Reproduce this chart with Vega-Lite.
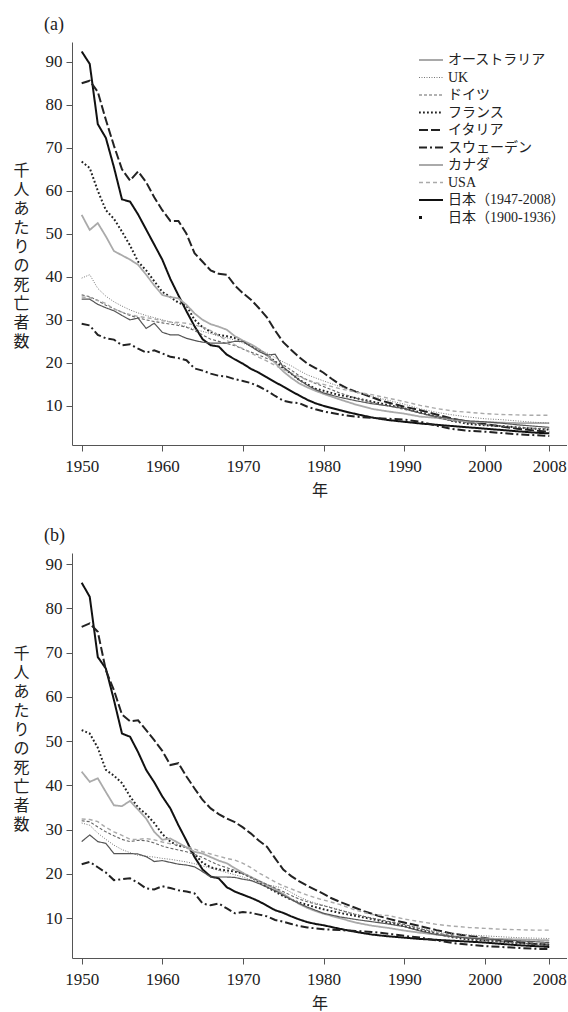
{
"$schema":"https://vega.github.io/schema/vega-lite/v6.json",
"background":"white",
"padding":{"left":12,"top":16,"right":0,"bottom":0},
"datasets":{
"a":[
{"c":"JP","x":1950,"v":92.4},{"c":"JP","x":1951,"v":89.5},{"c":"JP","x":1952,"v":75.5},{"c":"JP","x":1953,"v":72.3},{"c":"JP","x":1954,"v":65.5},{"c":"JP","x":1955,"v":58},{"c":"JP","x":1956,"v":57.5},{"c":"JP","x":1957,"v":54.5},{"c":"JP","x":1958,"v":51},{"c":"JP","x":1959,"v":47.5},{"c":"JP","x":1960,"v":44},{"c":"JP","x":1961,"v":39.5},{"c":"JP","x":1962,"v":35.7},{"c":"JP","x":1963,"v":32},{"c":"JP","x":1964,"v":28.5},{"c":"JP","x":1965,"v":25.5},{"c":"JP","x":1966,"v":24.1},{"c":"JP","x":1967,"v":23.8},{"c":"JP","x":1968,"v":21.9},{"c":"JP","x":1969,"v":20.8},{"c":"JP","x":1970,"v":19.8},{"c":"JP","x":1971,"v":18.6},{"c":"JP","x":1972,"v":17.7},{"c":"JP","x":1973,"v":16.6},{"c":"JP","x":1974,"v":15.5},{"c":"JP","x":1975,"v":14.5},{"c":"JP","x":1976,"v":13.4},{"c":"JP","x":1977,"v":12.4},{"c":"JP","x":1978,"v":11.4},{"c":"JP","x":1979,"v":10.6},{"c":"JP","x":1980,"v":10},{"c":"JP","x":1982,"v":9},{"c":"JP","x":1984,"v":8.1},{"c":"JP","x":1986,"v":7.3},{"c":"JP","x":1988,"v":6.7},{"c":"JP","x":1990,"v":6.3},{"c":"JP","x":1992,"v":5.9},{"c":"JP","x":1994,"v":5.6},{"c":"JP","x":1996,"v":5.3},{"c":"JP","x":1998,"v":5},{"c":"JP","x":2000,"v":4.7},{"c":"JP","x":2002,"v":4.4},{"c":"JP","x":2004,"v":4.1},{"c":"JP","x":2006,"v":3.8},{"c":"JP","x":2008,"v":3.6},
{"c":"IT","x":1950,"v":85},{"c":"IT","x":1951,"v":85.6},{"c":"IT","x":1952,"v":83},{"c":"IT","x":1953,"v":76.5},{"c":"IT","x":1954,"v":70.5},{"c":"IT","x":1955,"v":65},{"c":"IT","x":1956,"v":62.4},{"c":"IT","x":1957,"v":64.5},{"c":"IT","x":1958,"v":62},{"c":"IT","x":1959,"v":58.5},{"c":"IT","x":1960,"v":55.5},{"c":"IT","x":1961,"v":53},{"c":"IT","x":1962,"v":53},{"c":"IT","x":1963,"v":50},{"c":"IT","x":1964,"v":45.5},{"c":"IT","x":1965,"v":43.5},{"c":"IT","x":1966,"v":41.5},{"c":"IT","x":1967,"v":40.7},{"c":"IT","x":1968,"v":40.5},{"c":"IT","x":1969,"v":38},{"c":"IT","x":1970,"v":36.2},{"c":"IT","x":1971,"v":34.7},{"c":"IT","x":1972,"v":32.7},{"c":"IT","x":1973,"v":30.5},{"c":"IT","x":1974,"v":27.5},{"c":"IT","x":1975,"v":24.8},{"c":"IT","x":1976,"v":23},{"c":"IT","x":1977,"v":21.3},{"c":"IT","x":1978,"v":19.8},{"c":"IT","x":1979,"v":18.8},{"c":"IT","x":1980,"v":17.7},{"c":"IT","x":1981,"v":16.3},{"c":"IT","x":1982,"v":15},{"c":"IT","x":1983,"v":14},{"c":"IT","x":1984,"v":13.3},{"c":"IT","x":1985,"v":12.7},{"c":"IT","x":1986,"v":12},{"c":"IT","x":1987,"v":11.3},{"c":"IT","x":1988,"v":10.8},{"c":"IT","x":1989,"v":10.3},{"c":"IT","x":1990,"v":9.8},{"c":"IT","x":1992,"v":9},{"c":"IT","x":1994,"v":8},{"c":"IT","x":1996,"v":7},{"c":"IT","x":1998,"v":6.3},{"c":"IT","x":2000,"v":5.8},{"c":"IT","x":2002,"v":5.2},{"c":"IT","x":2004,"v":4.7},{"c":"IT","x":2006,"v":4.3},{"c":"IT","x":2008,"v":4},
{"c":"FR","x":1950,"v":66.8},{"c":"FR","x":1951,"v":65.3},{"c":"FR","x":1952,"v":60},{"c":"FR","x":1953,"v":55.5},{"c":"FR","x":1954,"v":53.5},{"c":"FR","x":1955,"v":50.5},{"c":"FR","x":1956,"v":47.3},{"c":"FR","x":1957,"v":43.5},{"c":"FR","x":1958,"v":41.5},{"c":"FR","x":1959,"v":39},{"c":"FR","x":1960,"v":36.5},{"c":"FR","x":1961,"v":35.3},{"c":"FR","x":1962,"v":34},{"c":"FR","x":1963,"v":33.3},{"c":"FR","x":1964,"v":30},{"c":"FR","x":1965,"v":28.3},{"c":"FR","x":1966,"v":27.2},{"c":"FR","x":1967,"v":26.5},{"c":"FR","x":1968,"v":26.2},{"c":"FR","x":1969,"v":25.8},{"c":"FR","x":1970,"v":25},{"c":"FR","x":1971,"v":24},{"c":"FR","x":1972,"v":23},{"c":"FR","x":1973,"v":21.8},{"c":"FR","x":1974,"v":20.3},{"c":"FR","x":1975,"v":18.8},{"c":"FR","x":1976,"v":17.5},{"c":"FR","x":1977,"v":16},{"c":"FR","x":1978,"v":15},{"c":"FR","x":1979,"v":14},{"c":"FR","x":1980,"v":13.5},{"c":"FR","x":1982,"v":12.5},{"c":"FR","x":1984,"v":11.8},{"c":"FR","x":1986,"v":11},{"c":"FR","x":1988,"v":10.2},{"c":"FR","x":1990,"v":9.4},{"c":"FR","x":1992,"v":8.5},{"c":"FR","x":1994,"v":7.5},{"c":"FR","x":1996,"v":6.5},{"c":"FR","x":1998,"v":5.8},{"c":"FR","x":2000,"v":5.5},{"c":"FR","x":2002,"v":5.3},{"c":"FR","x":2004,"v":5},{"c":"FR","x":2006,"v":4.7},{"c":"FR","x":2008,"v":4.5},
{"c":"CA","x":1950,"v":54.4},{"c":"CA","x":1951,"v":50.9},{"c":"CA","x":1952,"v":52.5},{"c":"CA","x":1953,"v":49.4},{"c":"CA","x":1954,"v":46},{"c":"CA","x":1955,"v":45},{"c":"CA","x":1956,"v":44},{"c":"CA","x":1957,"v":42.8},{"c":"CA","x":1958,"v":40.5},{"c":"CA","x":1959,"v":38},{"c":"CA","x":1960,"v":35.8},{"c":"CA","x":1961,"v":35.3},{"c":"CA","x":1962,"v":35},{"c":"CA","x":1963,"v":33.5},{"c":"CA","x":1964,"v":31.5},{"c":"CA","x":1965,"v":30},{"c":"CA","x":1966,"v":29},{"c":"CA","x":1967,"v":28.4},{"c":"CA","x":1968,"v":27.7},{"c":"CA","x":1969,"v":26.2},{"c":"CA","x":1970,"v":25.2},{"c":"CA","x":1971,"v":24.3},{"c":"CA","x":1972,"v":23.2},{"c":"CA","x":1973,"v":21.7},{"c":"CA","x":1974,"v":20},{"c":"CA","x":1975,"v":18},{"c":"CA","x":1976,"v":16.5},{"c":"CA","x":1977,"v":15.2},{"c":"CA","x":1978,"v":14.3},{"c":"CA","x":1979,"v":13.5},{"c":"CA","x":1980,"v":12.8},{"c":"CA","x":1982,"v":11.5},{"c":"CA","x":1984,"v":10.3},{"c":"CA","x":1986,"v":9.3},{"c":"CA","x":1988,"v":8.7},{"c":"CA","x":1990,"v":8.2},{"c":"CA","x":1992,"v":7.5},{"c":"CA","x":1994,"v":7.2},{"c":"CA","x":1996,"v":6.7},{"c":"CA","x":1998,"v":6.3},{"c":"CA","x":2000,"v":6.2},{"c":"CA","x":2002,"v":6.1},{"c":"CA","x":2004,"v":6},{"c":"CA","x":2006,"v":6},{"c":"CA","x":2008,"v":6},
{"c":"UK","x":1950,"v":39.7},{"c":"UK","x":1951,"v":40.5},{"c":"UK","x":1952,"v":37.3},{"c":"UK","x":1953,"v":35.5},{"c":"UK","x":1954,"v":34.2},{"c":"UK","x":1955,"v":33.2},{"c":"UK","x":1956,"v":32.3},{"c":"UK","x":1957,"v":31.6},{"c":"UK","x":1958,"v":31},{"c":"UK","x":1959,"v":30.5},{"c":"UK","x":1960,"v":30},{"c":"UK","x":1961,"v":29.5},{"c":"UK","x":1962,"v":29},{"c":"UK","x":1963,"v":28.4},{"c":"UK","x":1964,"v":27.8},{"c":"UK","x":1965,"v":27.3},{"c":"UK","x":1966,"v":26.8},{"c":"UK","x":1967,"v":26.2},{"c":"UK","x":1968,"v":25.8},{"c":"UK","x":1969,"v":25.3},{"c":"UK","x":1970,"v":24.6},{"c":"UK","x":1971,"v":23.8},{"c":"UK","x":1972,"v":23},{"c":"UK","x":1973,"v":22.3},{"c":"UK","x":1974,"v":21.2},{"c":"UK","x":1975,"v":20.2},{"c":"UK","x":1976,"v":19.3},{"c":"UK","x":1977,"v":18.2},{"c":"UK","x":1978,"v":17.2},{"c":"UK","x":1979,"v":16.5},{"c":"UK","x":1980,"v":15.8},{"c":"UK","x":1982,"v":14.5},{"c":"UK","x":1984,"v":13.3},{"c":"UK","x":1986,"v":12.2},{"c":"UK","x":1988,"v":11.3},{"c":"UK","x":1990,"v":10.4},{"c":"UK","x":1992,"v":9.3},{"c":"UK","x":1994,"v":8.5},{"c":"UK","x":1996,"v":7.9},{"c":"UK","x":1998,"v":7.4},{"c":"UK","x":2000,"v":7},{"c":"UK","x":2002,"v":6.8},{"c":"UK","x":2004,"v":6.5},{"c":"UK","x":2006,"v":6.2},{"c":"UK","x":2008,"v":6},
{"c":"DE","x":1950,"v":35.8},{"c":"DE","x":1951,"v":35.4},{"c":"DE","x":1952,"v":34.5},{"c":"DE","x":1953,"v":33.4},{"c":"DE","x":1954,"v":32.6},{"c":"DE","x":1955,"v":31.8},{"c":"DE","x":1956,"v":31},{"c":"DE","x":1957,"v":30.5},{"c":"DE","x":1958,"v":30},{"c":"DE","x":1959,"v":29.6},{"c":"DE","x":1960,"v":29.3},{"c":"DE","x":1961,"v":29},{"c":"DE","x":1962,"v":28.7},{"c":"DE","x":1963,"v":28.3},{"c":"DE","x":1964,"v":27.5},{"c":"DE","x":1965,"v":26.5},{"c":"DE","x":1966,"v":25.5},{"c":"DE","x":1967,"v":25},{"c":"DE","x":1968,"v":24.5},{"c":"DE","x":1969,"v":24},{"c":"DE","x":1970,"v":23.2},{"c":"DE","x":1971,"v":22.5},{"c":"DE","x":1972,"v":21.8},{"c":"DE","x":1973,"v":21},{"c":"DE","x":1974,"v":20.3},{"c":"DE","x":1975,"v":19.5},{"c":"DE","x":1976,"v":18.3},{"c":"DE","x":1977,"v":17},{"c":"DE","x":1978,"v":16},{"c":"DE","x":1979,"v":15.2},{"c":"DE","x":1980,"v":14.5},{"c":"DE","x":1982,"v":13},{"c":"DE","x":1984,"v":11.8},{"c":"DE","x":1986,"v":10.8},{"c":"DE","x":1988,"v":10},{"c":"DE","x":1990,"v":9.2},{"c":"DE","x":1992,"v":8.3},{"c":"DE","x":1994,"v":7.3},{"c":"DE","x":1996,"v":6.5},{"c":"DE","x":1998,"v":6},{"c":"DE","x":2000,"v":5.6},{"c":"DE","x":2002,"v":5.3},{"c":"DE","x":2004,"v":5},{"c":"DE","x":2006,"v":4.8},{"c":"DE","x":2008,"v":4.6},
{"c":"US","x":1950,"v":35.3},{"c":"US","x":1951,"v":35.2},{"c":"US","x":1952,"v":34.5},{"c":"US","x":1953,"v":33.8},{"c":"US","x":1954,"v":32.5},{"c":"US","x":1955,"v":31.8},{"c":"US","x":1956,"v":31.2},{"c":"US","x":1957,"v":30.8},{"c":"US","x":1958,"v":30.5},{"c":"US","x":1959,"v":30.2},{"c":"US","x":1960,"v":29.8},{"c":"US","x":1961,"v":29.5},{"c":"US","x":1962,"v":29.4},{"c":"US","x":1963,"v":29.2},{"c":"US","x":1964,"v":28.8},{"c":"US","x":1965,"v":28.3},{"c":"US","x":1966,"v":27.5},{"c":"US","x":1967,"v":26.3},{"c":"US","x":1968,"v":25.2},{"c":"US","x":1969,"v":24.2},{"c":"US","x":1970,"v":23.3},{"c":"US","x":1971,"v":22.3},{"c":"US","x":1972,"v":21.3},{"c":"US","x":1973,"v":20.4},{"c":"US","x":1974,"v":19.4},{"c":"US","x":1975,"v":18.5},{"c":"US","x":1976,"v":17.6},{"c":"US","x":1977,"v":16.8},{"c":"US","x":1978,"v":16},{"c":"US","x":1979,"v":15.4},{"c":"US","x":1980,"v":15},{"c":"US","x":1982,"v":14},{"c":"US","x":1984,"v":13.2},{"c":"US","x":1986,"v":12.6},{"c":"US","x":1988,"v":11.8},{"c":"US","x":1990,"v":11},{"c":"US","x":1992,"v":10.1},{"c":"US","x":1994,"v":9.4},{"c":"US","x":1996,"v":8.8},{"c":"US","x":1998,"v":8.5},{"c":"US","x":2000,"v":8.2},{"c":"US","x":2002,"v":8},{"c":"US","x":2004,"v":7.9},{"c":"US","x":2006,"v":7.8},{"c":"US","x":2008,"v":7.8},
{"c":"AU","x":1950,"v":34.8},{"c":"AU","x":1951,"v":34.8},{"c":"AU","x":1952,"v":33.6},{"c":"AU","x":1953,"v":32.8},{"c":"AU","x":1954,"v":32.1},{"c":"AU","x":1955,"v":31},{"c":"AU","x":1956,"v":30},{"c":"AU","x":1957,"v":30.4},{"c":"AU","x":1958,"v":28},{"c":"AU","x":1959,"v":29.2},{"c":"AU","x":1960,"v":27.1},{"c":"AU","x":1961,"v":26.5},{"c":"AU","x":1962,"v":26.5},{"c":"AU","x":1963,"v":25.7},{"c":"AU","x":1964,"v":25.2},{"c":"AU","x":1965,"v":24.8},{"c":"AU","x":1966,"v":24.6},{"c":"AU","x":1967,"v":24.6},{"c":"AU","x":1968,"v":24.6},{"c":"AU","x":1969,"v":25},{"c":"AU","x":1970,"v":25},{"c":"AU","x":1971,"v":23.8},{"c":"AU","x":1972,"v":22.6},{"c":"AU","x":1973,"v":21.8},{"c":"AU","x":1974,"v":22},{"c":"AU","x":1975,"v":19},{"c":"AU","x":1976,"v":17.5},{"c":"AU","x":1977,"v":16},{"c":"AU","x":1978,"v":14.8},{"c":"AU","x":1979,"v":13.8},{"c":"AU","x":1980,"v":13},{"c":"AU","x":1982,"v":12},{"c":"AU","x":1984,"v":11.2},{"c":"AU","x":1986,"v":10.5},{"c":"AU","x":1988,"v":10},{"c":"AU","x":1990,"v":9.4},{"c":"AU","x":1992,"v":8.3},{"c":"AU","x":1994,"v":7.5},{"c":"AU","x":1996,"v":7},{"c":"AU","x":1998,"v":6.5},{"c":"AU","x":2000,"v":6.3},{"c":"AU","x":2002,"v":6},{"c":"AU","x":2004,"v":5.6},{"c":"AU","x":2006,"v":5.3},{"c":"AU","x":2008,"v":5},
{"c":"SE","x":1950,"v":29.1},{"c":"SE","x":1951,"v":28.7},{"c":"SE","x":1952,"v":26.5},{"c":"SE","x":1953,"v":25.7},{"c":"SE","x":1954,"v":25.4},{"c":"SE","x":1955,"v":24.1},{"c":"SE","x":1956,"v":24.3},{"c":"SE","x":1957,"v":23.3},{"c":"SE","x":1958,"v":22.4},{"c":"SE","x":1959,"v":22.9},{"c":"SE","x":1960,"v":22.2},{"c":"SE","x":1961,"v":21.4},{"c":"SE","x":1962,"v":21.1},{"c":"SE","x":1963,"v":20.6},{"c":"SE","x":1964,"v":18.7},{"c":"SE","x":1965,"v":18.2},{"c":"SE","x":1966,"v":17.5},{"c":"SE","x":1967,"v":17},{"c":"SE","x":1968,"v":16.8},{"c":"SE","x":1969,"v":16.2},{"c":"SE","x":1970,"v":15.8},{"c":"SE","x":1971,"v":15.3},{"c":"SE","x":1972,"v":14.5},{"c":"SE","x":1973,"v":13.5},{"c":"SE","x":1974,"v":12.3},{"c":"SE","x":1975,"v":11.2},{"c":"SE","x":1976,"v":10.8},{"c":"SE","x":1977,"v":10.6},{"c":"SE","x":1978,"v":9.8},{"c":"SE","x":1979,"v":9.2},{"c":"SE","x":1980,"v":8.7},{"c":"SE","x":1982,"v":8},{"c":"SE","x":1984,"v":7.5},{"c":"SE","x":1986,"v":7.2},{"c":"SE","x":1988,"v":7},{"c":"SE","x":1990,"v":6.8},{"c":"SE","x":1992,"v":6.3},{"c":"SE","x":1994,"v":5.4},{"c":"SE","x":1996,"v":4.6},{"c":"SE","x":1998,"v":4.2},{"c":"SE","x":2000,"v":4},{"c":"SE","x":2002,"v":3.7},{"c":"SE","x":2004,"v":3.4},{"c":"SE","x":2006,"v":3.2},{"c":"SE","x":2008,"v":3}
],
"b":[
{"c":"JP","x":1950,"v":85.8},{"c":"JP","x":1951,"v":82.6},{"c":"JP","x":1952,"v":69},{"c":"JP","x":1953,"v":66.4},{"c":"JP","x":1954,"v":59.3},{"c":"JP","x":1955,"v":51.7},{"c":"JP","x":1956,"v":51},{"c":"JP","x":1957,"v":47.5},{"c":"JP","x":1958,"v":43.5},{"c":"JP","x":1959,"v":40.7},{"c":"JP","x":1960,"v":37.5},{"c":"JP","x":1961,"v":34.8},{"c":"JP","x":1962,"v":31},{"c":"JP","x":1963,"v":27.5},{"c":"JP","x":1964,"v":23.8},{"c":"JP","x":1965,"v":21},{"c":"JP","x":1966,"v":19.4},{"c":"JP","x":1967,"v":19},{"c":"JP","x":1968,"v":17},{"c":"JP","x":1969,"v":16},{"c":"JP","x":1970,"v":15.3},{"c":"JP","x":1971,"v":14.6},{"c":"JP","x":1972,"v":13.8},{"c":"JP","x":1973,"v":12.8},{"c":"JP","x":1974,"v":11.8},{"c":"JP","x":1975,"v":11.2},{"c":"JP","x":1976,"v":10.4},{"c":"JP","x":1977,"v":9.7},{"c":"JP","x":1978,"v":9.1},{"c":"JP","x":1979,"v":8.7},{"c":"JP","x":1980,"v":8.4},{"c":"JP","x":1982,"v":7.6},{"c":"JP","x":1984,"v":6.9},{"c":"JP","x":1986,"v":6.3},{"c":"JP","x":1988,"v":5.9},{"c":"JP","x":1990,"v":5.6},{"c":"JP","x":1992,"v":5.3},{"c":"JP","x":1994,"v":5.1},{"c":"JP","x":1996,"v":4.9},{"c":"JP","x":1998,"v":4.7},{"c":"JP","x":2000,"v":4.5},{"c":"JP","x":2002,"v":4.2},{"c":"JP","x":2004,"v":3.9},{"c":"JP","x":2006,"v":3.7},{"c":"JP","x":2008,"v":3.5},
{"c":"IT","x":1950,"v":75.8},{"c":"IT","x":1951,"v":76.6},{"c":"IT","x":1952,"v":74.7},{"c":"IT","x":1953,"v":66},{"c":"IT","x":1954,"v":61.5},{"c":"IT","x":1955,"v":56},{"c":"IT","x":1956,"v":54.5},{"c":"IT","x":1957,"v":54.7},{"c":"IT","x":1958,"v":52.5},{"c":"IT","x":1959,"v":50.2},{"c":"IT","x":1960,"v":47.8},{"c":"IT","x":1961,"v":44.6},{"c":"IT","x":1962,"v":45},{"c":"IT","x":1963,"v":42},{"c":"IT","x":1964,"v":39.3},{"c":"IT","x":1965,"v":36.7},{"c":"IT","x":1966,"v":34.8},{"c":"IT","x":1967,"v":33.5},{"c":"IT","x":1968,"v":32.5},{"c":"IT","x":1969,"v":31.7},{"c":"IT","x":1970,"v":30.5},{"c":"IT","x":1971,"v":29.1},{"c":"IT","x":1972,"v":27.5},{"c":"IT","x":1973,"v":26.1},{"c":"IT","x":1974,"v":23.5},{"c":"IT","x":1975,"v":21},{"c":"IT","x":1976,"v":19.5},{"c":"IT","x":1977,"v":18.3},{"c":"IT","x":1978,"v":17.3},{"c":"IT","x":1979,"v":16.4},{"c":"IT","x":1980,"v":15.5},{"c":"IT","x":1981,"v":14.5},{"c":"IT","x":1982,"v":13.7},{"c":"IT","x":1983,"v":13},{"c":"IT","x":1984,"v":12.3},{"c":"IT","x":1985,"v":11.6},{"c":"IT","x":1986,"v":11},{"c":"IT","x":1987,"v":10.4},{"c":"IT","x":1988,"v":9.9},{"c":"IT","x":1989,"v":9.4},{"c":"IT","x":1990,"v":9},{"c":"IT","x":1992,"v":8.2},{"c":"IT","x":1994,"v":7.3},{"c":"IT","x":1996,"v":6.5},{"c":"IT","x":1998,"v":6},{"c":"IT","x":2000,"v":5.5},{"c":"IT","x":2002,"v":5},{"c":"IT","x":2004,"v":4.6},{"c":"IT","x":2006,"v":4.2},{"c":"IT","x":2008,"v":4},
{"c":"FR","x":1950,"v":52.5},{"c":"FR","x":1951,"v":51.7},{"c":"FR","x":1952,"v":48.5},{"c":"FR","x":1953,"v":43.5},{"c":"FR","x":1954,"v":42.2},{"c":"FR","x":1955,"v":40.5},{"c":"FR","x":1956,"v":37.5},{"c":"FR","x":1957,"v":35},{"c":"FR","x":1958,"v":33.5},{"c":"FR","x":1959,"v":31.5},{"c":"FR","x":1960,"v":29},{"c":"FR","x":1961,"v":27.3},{"c":"FR","x":1962,"v":26.3},{"c":"FR","x":1963,"v":26.1},{"c":"FR","x":1964,"v":24.5},{"c":"FR","x":1965,"v":22.5},{"c":"FR","x":1966,"v":21.5},{"c":"FR","x":1967,"v":21},{"c":"FR","x":1968,"v":20.8},{"c":"FR","x":1969,"v":20.5},{"c":"FR","x":1970,"v":20.1},{"c":"FR","x":1971,"v":19.2},{"c":"FR","x":1972,"v":18.2},{"c":"FR","x":1973,"v":17},{"c":"FR","x":1974,"v":16},{"c":"FR","x":1975,"v":15},{"c":"FR","x":1976,"v":14.2},{"c":"FR","x":1977,"v":13.5},{"c":"FR","x":1978,"v":13},{"c":"FR","x":1979,"v":12.5},{"c":"FR","x":1980,"v":12},{"c":"FR","x":1982,"v":11.2},{"c":"FR","x":1984,"v":10.5},{"c":"FR","x":1986,"v":9.8},{"c":"FR","x":1988,"v":9},{"c":"FR","x":1990,"v":8.2},{"c":"FR","x":1992,"v":7.3},{"c":"FR","x":1994,"v":6.5},{"c":"FR","x":1996,"v":5.7},{"c":"FR","x":1998,"v":5.2},{"c":"FR","x":2000,"v":5},{"c":"FR","x":2002,"v":4.7},{"c":"FR","x":2004,"v":4.4},{"c":"FR","x":2006,"v":4.2},{"c":"FR","x":2008,"v":4},
{"c":"CA","x":1950,"v":43.1},{"c":"CA","x":1951,"v":40.8},{"c":"CA","x":1952,"v":41.6},{"c":"CA","x":1953,"v":38.5},{"c":"CA","x":1954,"v":35.5},{"c":"CA","x":1955,"v":35.3},{"c":"CA","x":1956,"v":36.5},{"c":"CA","x":1957,"v":34.5},{"c":"CA","x":1958,"v":32.5},{"c":"CA","x":1959,"v":29.5},{"c":"CA","x":1960,"v":27.7},{"c":"CA","x":1961,"v":28},{"c":"CA","x":1962,"v":27},{"c":"CA","x":1963,"v":26},{"c":"CA","x":1964,"v":25},{"c":"CA","x":1965,"v":24.6},{"c":"CA","x":1966,"v":23.8},{"c":"CA","x":1967,"v":23},{"c":"CA","x":1968,"v":22.4},{"c":"CA","x":1969,"v":21.3},{"c":"CA","x":1970,"v":20.2},{"c":"CA","x":1971,"v":19.3},{"c":"CA","x":1972,"v":18.4},{"c":"CA","x":1973,"v":17.5},{"c":"CA","x":1974,"v":16.6},{"c":"CA","x":1975,"v":15.5},{"c":"CA","x":1976,"v":14.3},{"c":"CA","x":1977,"v":13.2},{"c":"CA","x":1978,"v":12.3},{"c":"CA","x":1979,"v":11.6},{"c":"CA","x":1980,"v":11},{"c":"CA","x":1982,"v":10},{"c":"CA","x":1984,"v":9},{"c":"CA","x":1986,"v":8.3},{"c":"CA","x":1988,"v":7.8},{"c":"CA","x":1990,"v":7.2},{"c":"CA","x":1992,"v":6.7},{"c":"CA","x":1994,"v":6.3},{"c":"CA","x":1996,"v":5.9},{"c":"CA","x":1998,"v":5.6},{"c":"CA","x":2000,"v":5.4},{"c":"CA","x":2002,"v":5.3},{"c":"CA","x":2004,"v":5.2},{"c":"CA","x":2006,"v":5.1},{"c":"CA","x":2008,"v":5},
{"c":"UK","x":1950,"v":31.5},{"c":"UK","x":1951,"v":31},{"c":"UK","x":1952,"v":29.2},{"c":"UK","x":1953,"v":27.8},{"c":"UK","x":1954,"v":26.5},{"c":"UK","x":1955,"v":25.5},{"c":"UK","x":1956,"v":24.8},{"c":"UK","x":1957,"v":24.2},{"c":"UK","x":1958,"v":24},{"c":"UK","x":1959,"v":23.8},{"c":"UK","x":1960,"v":23.5},{"c":"UK","x":1961,"v":23.3},{"c":"UK","x":1962,"v":23},{"c":"UK","x":1963,"v":22.7},{"c":"UK","x":1964,"v":22.3},{"c":"UK","x":1965,"v":21.8},{"c":"UK","x":1966,"v":21.3},{"c":"UK","x":1967,"v":20.8},{"c":"UK","x":1968,"v":20.3},{"c":"UK","x":1969,"v":19.8},{"c":"UK","x":1970,"v":19.3},{"c":"UK","x":1971,"v":18.6},{"c":"UK","x":1972,"v":18},{"c":"UK","x":1973,"v":17.5},{"c":"UK","x":1974,"v":17.2},{"c":"UK","x":1975,"v":16.8},{"c":"UK","x":1976,"v":15.8},{"c":"UK","x":1977,"v":14.8},{"c":"UK","x":1978,"v":14},{"c":"UK","x":1979,"v":13.4},{"c":"UK","x":1980,"v":12.9},{"c":"UK","x":1982,"v":11.9},{"c":"UK","x":1984,"v":10.9},{"c":"UK","x":1986,"v":10},{"c":"UK","x":1988,"v":9.2},{"c":"UK","x":1990,"v":8.5},{"c":"UK","x":1992,"v":7.7},{"c":"UK","x":1994,"v":7},{"c":"UK","x":1996,"v":6.5},{"c":"UK","x":1998,"v":6.2},{"c":"UK","x":2000,"v":6},{"c":"UK","x":2002,"v":5.8},{"c":"UK","x":2004,"v":5.6},{"c":"UK","x":2006,"v":5.5},{"c":"UK","x":2008,"v":5.4},
{"c":"DE","x":1950,"v":32},{"c":"DE","x":1951,"v":31.8},{"c":"DE","x":1952,"v":30.6},{"c":"DE","x":1953,"v":29.5},{"c":"DE","x":1954,"v":28.6},{"c":"DE","x":1955,"v":27.8},{"c":"DE","x":1956,"v":27.3},{"c":"DE","x":1957,"v":27.6},{"c":"DE","x":1958,"v":27.5},{"c":"DE","x":1959,"v":27},{"c":"DE","x":1960,"v":26.3},{"c":"DE","x":1961,"v":25.8},{"c":"DE","x":1962,"v":25.4},{"c":"DE","x":1963,"v":25},{"c":"DE","x":1964,"v":24.4},{"c":"DE","x":1965,"v":23.7},{"c":"DE","x":1966,"v":22.8},{"c":"DE","x":1967,"v":22},{"c":"DE","x":1968,"v":21.4},{"c":"DE","x":1969,"v":20.8},{"c":"DE","x":1970,"v":20},{"c":"DE","x":1971,"v":19.2},{"c":"DE","x":1972,"v":18.4},{"c":"DE","x":1973,"v":17.6},{"c":"DE","x":1974,"v":16.8},{"c":"DE","x":1975,"v":16},{"c":"DE","x":1976,"v":15.1},{"c":"DE","x":1977,"v":14.3},{"c":"DE","x":1978,"v":13.7},{"c":"DE","x":1979,"v":13.2},{"c":"DE","x":1980,"v":12.8},{"c":"DE","x":1982,"v":11.8},{"c":"DE","x":1984,"v":10.8},{"c":"DE","x":1986,"v":10},{"c":"DE","x":1988,"v":9.3},{"c":"DE","x":1990,"v":8.6},{"c":"DE","x":1992,"v":7.6},{"c":"DE","x":1994,"v":6.7},{"c":"DE","x":1996,"v":6},{"c":"DE","x":1998,"v":5.4},{"c":"DE","x":2000,"v":5},{"c":"DE","x":2002,"v":4.7},{"c":"DE","x":2004,"v":4.4},{"c":"DE","x":2006,"v":4.2},{"c":"DE","x":2008,"v":4},
{"c":"US","x":1950,"v":32.4},{"c":"US","x":1951,"v":32.3},{"c":"US","x":1952,"v":31.8},{"c":"US","x":1953,"v":30.5},{"c":"US","x":1954,"v":29.5},{"c":"US","x":1955,"v":28.7},{"c":"US","x":1956,"v":27.8},{"c":"US","x":1957,"v":27.8},{"c":"US","x":1958,"v":28},{"c":"US","x":1959,"v":27.7},{"c":"US","x":1960,"v":27.2},{"c":"US","x":1961,"v":26.8},{"c":"US","x":1962,"v":26.5},{"c":"US","x":1963,"v":26.2},{"c":"US","x":1964,"v":25.6},{"c":"US","x":1965,"v":25},{"c":"US","x":1966,"v":24.5},{"c":"US","x":1967,"v":24},{"c":"US","x":1968,"v":23.5},{"c":"US","x":1969,"v":23.1},{"c":"US","x":1970,"v":22.4},{"c":"US","x":1971,"v":21.4},{"c":"US","x":1972,"v":20.2},{"c":"US","x":1973,"v":19.2},{"c":"US","x":1974,"v":18.2},{"c":"US","x":1975,"v":17.3},{"c":"US","x":1976,"v":16.6},{"c":"US","x":1977,"v":15.9},{"c":"US","x":1978,"v":15.2},{"c":"US","x":1979,"v":14.6},{"c":"US","x":1980,"v":14.1},{"c":"US","x":1982,"v":13.1},{"c":"US","x":1984,"v":11.8},{"c":"US","x":1986,"v":10.8},{"c":"US","x":1988,"v":10.6},{"c":"US","x":1990,"v":9.8},{"c":"US","x":1992,"v":9.2},{"c":"US","x":1994,"v":8.6},{"c":"US","x":1996,"v":8.2},{"c":"US","x":1998,"v":7.9},{"c":"US","x":2000,"v":7.7},{"c":"US","x":2002,"v":7.5},{"c":"US","x":2004,"v":7.4},{"c":"US","x":2006,"v":7.3},{"c":"US","x":2008,"v":7.3},
{"c":"AU","x":1950,"v":27.3},{"c":"AU","x":1951,"v":28.8},{"c":"AU","x":1952,"v":27.3},{"c":"AU","x":1953,"v":26.9},{"c":"AU","x":1954,"v":24.6},{"c":"AU","x":1955,"v":24.6},{"c":"AU","x":1956,"v":24.6},{"c":"AU","x":1957,"v":24.5},{"c":"AU","x":1958,"v":23.9},{"c":"AU","x":1959,"v":22.8},{"c":"AU","x":1960,"v":23},{"c":"AU","x":1961,"v":22.6},{"c":"AU","x":1962,"v":22.2},{"c":"AU","x":1963,"v":22},{"c":"AU","x":1964,"v":21.6},{"c":"AU","x":1965,"v":20.5},{"c":"AU","x":1966,"v":19.3},{"c":"AU","x":1967,"v":19.3},{"c":"AU","x":1968,"v":19.3},{"c":"AU","x":1969,"v":19.2},{"c":"AU","x":1970,"v":18.8},{"c":"AU","x":1971,"v":18.5},{"c":"AU","x":1972,"v":17.8},{"c":"AU","x":1973,"v":17},{"c":"AU","x":1974,"v":16.2},{"c":"AU","x":1975,"v":15.2},{"c":"AU","x":1976,"v":14.2},{"c":"AU","x":1977,"v":13.3},{"c":"AU","x":1978,"v":12.5},{"c":"AU","x":1979,"v":11.8},{"c":"AU","x":1980,"v":11.1},{"c":"AU","x":1982,"v":10.3},{"c":"AU","x":1984,"v":9.7},{"c":"AU","x":1986,"v":9.2},{"c":"AU","x":1988,"v":8.7},{"c":"AU","x":1990,"v":8.1},{"c":"AU","x":1992,"v":7.1},{"c":"AU","x":1994,"v":6.3},{"c":"AU","x":1996,"v":5.8},{"c":"AU","x":1998,"v":5.5},{"c":"AU","x":2000,"v":5.3},{"c":"AU","x":2002,"v":5.1},{"c":"AU","x":2004,"v":4.9},{"c":"AU","x":2006,"v":4.7},{"c":"AU","x":2008,"v":4.5},
{"c":"SE","x":1950,"v":22.2},{"c":"SE","x":1951,"v":22.7},{"c":"SE","x":1952,"v":21.5},{"c":"SE","x":1953,"v":20.3},{"c":"SE","x":1954,"v":18.6},{"c":"SE","x":1955,"v":18.8},{"c":"SE","x":1956,"v":19},{"c":"SE","x":1957,"v":18},{"c":"SE","x":1958,"v":16.7},{"c":"SE","x":1959,"v":16.5},{"c":"SE","x":1960,"v":17.2},{"c":"SE","x":1961,"v":16.8},{"c":"SE","x":1962,"v":16.3},{"c":"SE","x":1963,"v":16},{"c":"SE","x":1964,"v":15.6},{"c":"SE","x":1965,"v":13.3},{"c":"SE","x":1966,"v":12.9},{"c":"SE","x":1967,"v":13.3},{"c":"SE","x":1968,"v":12.2},{"c":"SE","x":1969,"v":11.1},{"c":"SE","x":1970,"v":11.4},{"c":"SE","x":1971,"v":11.2},{"c":"SE","x":1972,"v":10.8},{"c":"SE","x":1973,"v":10.4},{"c":"SE","x":1974,"v":9.6},{"c":"SE","x":1975,"v":9.2},{"c":"SE","x":1976,"v":8.7},{"c":"SE","x":1977,"v":8.2},{"c":"SE","x":1978,"v":7.9},{"c":"SE","x":1979,"v":7.7},{"c":"SE","x":1980,"v":7.5},{"c":"SE","x":1982,"v":7.3},{"c":"SE","x":1984,"v":7.1},{"c":"SE","x":1986,"v":6.9},{"c":"SE","x":1988,"v":6.5},{"c":"SE","x":1990,"v":6},{"c":"SE","x":1992,"v":5.6},{"c":"SE","x":1994,"v":5},{"c":"SE","x":1996,"v":4.4},{"c":"SE","x":1998,"v":4},{"c":"SE","x":2000,"v":3.7},{"c":"SE","x":2002,"v":3.5},{"c":"SE","x":2004,"v":3.3},{"c":"SE","x":2006,"v":3.1},{"c":"SE","x":2008,"v":3}
]
},
"config":{
"view":{"stroke":null},
"font":"Liberation Serif, Noto Sans CJK JP",
"axis":{"grid":false,"domainColor":"#555","tickColor":"#555","labelColor":"#222","titleColor":"#222","labelFont":"Liberation Serif, Noto Sans CJK JP","titleFont":"Liberation Serif, Noto Sans CJK JP","labelFontSize":17,"titleFontSize":16,"titleFontWeight":"normal","tickSize":6},
"axisX":{"labelPadding":7,"titlePadding":8,"labelFont":"Liberation Serif","labelFontSize":17},
"axisY":{"labelPadding":4,"labelFont":"Liberation Serif","labelFontSize":17},
"legend":{"labelFont":"Liberation Serif, Noto Sans CJK JP","labelFontSize":14,"labelColor":"#222","padding":0,"symbolType":"M-3,0H3","symbolSize":64,"labelOffset":10},
"title":{"font":"Liberation Serif, Noto Sans CJK JP","fontSize":18,"fontWeight":"normal","color":"#222","anchor":"start","frame":"group"},
"concat":{"spacing":29}
},
"vconcat":[
{
"title":{"text":"(a)","dx":-28,"offset":8},
"width":495,"height":403,
"data":{"name":"a"},
"mark":{"type":"line","clip":true},
"encoding":{
"x":{"field":"x","type":"quantitative","scale":{"domain":[1948.8,2010.2],"nice":false,"zero":false},"axis":{"values":[1950,1960,1970,1980,1990,2000,2008],"format":"d","title":"年"}},
"y":{"field":"v","type":"quantitative","scale":{"domain":[0.9,94.6],"nice":false,"zero":false},"axis":{"values":[10,20,30,40,50,60,70,80,90],"title":["千","人","あ","た","り","の","死","亡","者","数"],"titleAngle":0,"titleX":-51,"titleY":128,"titleAlign":"center","titleBaseline":"middle","titleLineHeight":19}},
"color":{"field":"c","type":"nominal","scale":{"domain":["AU","UK","DE","FR","IT","SE","CA","US","JP","JP0"],"range":["#555","#777","#666","#222","#222","#222","#aaa","#aaa","#111","#111"]},
 "legend":{"title":null,"orient":"none","legendX":352,"legendY":11,"rowPadding":3.5,"labelExpr":"datum.label=='AU'?'オーストラリア':datum.label=='UK'?'UK':datum.label=='DE'?'ドイツ':datum.label=='FR'?'フランス':datum.label=='IT'?'イタリア':datum.label=='SE'?'スウェーデン':datum.label=='CA'?'カナダ':datum.label=='US'?'USA':datum.label=='JP'?'日本（1947-2008）':'日本（1900-1936）'"}},
"strokeDash":{"field":"c","type":"nominal","scale":{"domain":["AU","UK","DE","FR","IT","SE","CA","US","JP","JP0"],"range":[[1,0],[1,1.5],[3,2],[1.8,2.2],[9,3],[8,3,2,3],[1,0],[4,3],[1,0],[3,100]]}},
"strokeWidth":{"field":"c","type":"nominal","scale":{"type":"ordinal","domain":["AU","UK","DE","FR","IT","SE","CA","US","JP","JP0"],"range":[1.2,1,1.1,2,2,2,1.8,1.4,2,3]}}
}
},
{
"title":{"text":"(b)","dx":-28,"offset":8},
"width":495,"height":405,
"data":{"name":"b"},
"mark":{"type":"line","clip":true},
"encoding":{
"x":{"field":"x","type":"quantitative","scale":{"domain":[1948.8,2010.2],"nice":false,"zero":false},"axis":{"values":[1950,1960,1970,1980,1990,2000,2008],"format":"d","title":"年"}},
"y":{"field":"v","type":"quantitative","scale":{"domain":[1,92.5],"nice":false,"zero":false},"axis":{"values":[10,20,30,40,50,60,70,80,90],"title":["千","人","あ","た","り","の","死","亡","者","数"],"titleAngle":0,"titleX":-51,"titleY":100,"titleAlign":"center","titleBaseline":"middle","titleLineHeight":19}},
"color":{"field":"c","type":"nominal","scale":{"domain":["AU","UK","DE","FR","IT","SE","CA","US","JP","JP0"],"range":["#555","#777","#666","#222","#222","#222","#aaa","#aaa","#111","#111"]},
 "legend":{"title":null,"orient":"none","legendX":352,"legendY":13,"rowPadding":2.7,"labelExpr":"datum.label=='AU'?'オーストラリア':datum.label=='UK'?'UK':datum.label=='DE'?'ドイツ':datum.label=='FR'?'フランス':datum.label=='IT'?'イタリア':datum.label=='SE'?'スウェーデン':datum.label=='CA'?'カナダ':datum.label=='US'?'USA':datum.label=='JP'?'日本（1947-2008）':'日本（1900-1936）'"}},
"strokeDash":{"field":"c","type":"nominal","scale":{"domain":["AU","UK","DE","FR","IT","SE","CA","US","JP","JP0"],"range":[[1,0],[1,1.5],[3,2],[1.8,2.2],[9,3],[8,3,2,3],[1,0],[4,3],[1,0],[3,100]]}},
"strokeWidth":{"field":"c","type":"nominal","scale":{"type":"ordinal","domain":["AU","UK","DE","FR","IT","SE","CA","US","JP","JP0"],"range":[1.2,1,1.1,2,2,2,1.8,1.4,2,3]}}
}
}
]
}
